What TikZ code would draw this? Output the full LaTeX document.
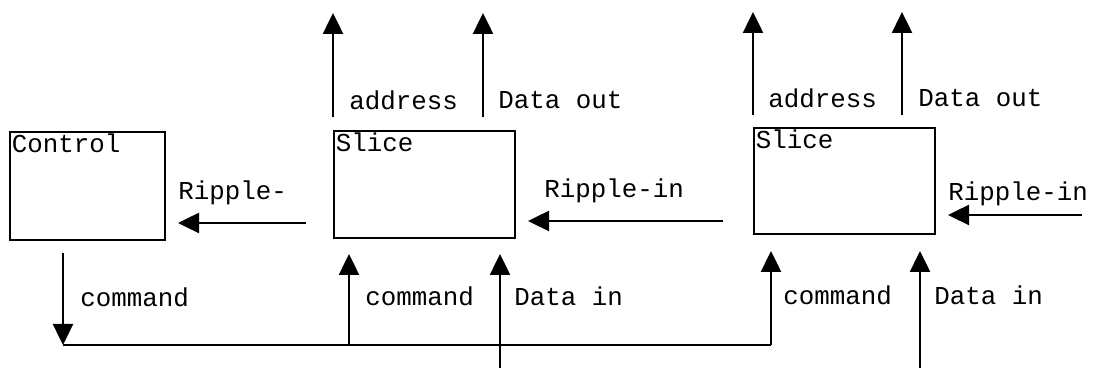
\documentclass[tikz,border=0pt]{standalone}
\usepackage{fontspec}
\setmonofont{Liberation Mono}
\usetikzlibrary{arrows.meta}

\tikzset{
	box/.style={draw, line width=1.3pt, minimum height=2.14cm, minimum width=3.62cm,
		inner sep=0pt, anchor=south west},
	tag/.style={anchor=north west, inner sep=1.5pt},
	lbl/.style={anchor=west, inner sep=0pt},
	wire/.style={line width=1.4pt},
	sig/.style={wire, -{Triangle[length=0.42cm,width=0.4cm]}}
}

\begin{document}
\begin{tikzpicture}[font=\ttfamily\fontsize{14.7}{17}\selectfont]
		\useasboundingbox (0,0) rectangle (22,7.4);

		% blocks
		\node[box, minimum width=3.1cm, minimum height=2.16cm] (ctrl) at (0.18,2.58) {};
		\node[box] (sa) at (6.66,2.62) {};
		\node[box, minimum height=2.12cm] (sb) at (15.06,2.70) {};

		\node[tag] (ctrltag) at (ctrl.north west) {Control};
		\node[tag] (satag)   at (sa.north west)   {Slice};
		\node[tag] (sbtag)   at (sb.north west)   {Slice};

		% outputs on top
		\coordinate (aa1) at (6.66,5.06);  \coordinate (aa2) at (6.66,7.14);
		\coordinate (ao1) at (9.66,5.06);  \coordinate (ao2) at (9.66,7.14);
		\coordinate (ba1) at (15.06,5.10); \coordinate (ba2) at (15.06,7.16);
		\coordinate (bo1) at (18.04,5.10); \coordinate (bo2) at (18.04,7.16);

		\draw[sig] (aa1) -- (aa2);
		\draw[sig] (ao1) -- (ao2);
		\draw[sig] (ba1) -- (ba2);
		\draw[sig] (bo1) -- (bo2);

		\node[lbl] (aadr) at (6.98,5.40)  {address};
		\node[lbl] (aout) at (9.96,5.40)  {Data out};
		\node[lbl] (badr) at (15.36,5.44) {address};
		\node[lbl] (bout) at (18.36,5.44) {Data out};

		% ripple chain
		\coordinate (r0a) at (6.12,2.94);  \coordinate (r0b) at (3.56,2.94);
		\coordinate (r1a) at (14.46,2.98); \coordinate (r1b) at (10.56,2.98);
		\coordinate (r2a) at (21.64,3.10); \coordinate (r2b) at (18.96,3.10);

		\draw[sig] (r0a) -- (r0b);
		\draw[sig] (r1a) -- (r1b);
		\draw[sig] (r2a) -- (r2b);

		\node[lbl] (r0lbl) at (3.56,3.54)  {Ripple-};
		\node[lbl] (r1lbl) at (10.88,3.58) {Ripple-in};
		\node[lbl] (r2lbl) at (18.96,3.52) {Ripple-in};

		% command bus and data inputs
		\coordinate (c0) at (1.26,2.34);
		\coordinate (bus0) at (1.26,0.50);
		\coordinate (bus1) at (6.98,0.50);  \coordinate (ca) at (6.98,2.32);
		\coordinate (bus2) at (15.42,0.50); \coordinate (cb) at (15.42,2.38);
		\coordinate (da1) at (10.00,0.04);  \coordinate (da2) at (10.00,2.32);
		\coordinate (db1) at (18.40,0.04);  \coordinate (db2) at (18.40,2.38);

		\draw[sig] (c0) -- (bus0);
		\draw[wire] (bus0) -- (bus2);
		\draw[sig] (bus1) -- (ca);
		\draw[sig] (bus2) -- (cb);
		\draw[sig] (da1) -- (da2);
		\draw[sig] (db1) -- (db2);

		\node[lbl] (c0lbl) at (1.60,1.46)  {command};
		\node[lbl] (calbl) at (7.30,1.48)  {command};
		\node[lbl] (dalbl) at (10.28,1.48) {Data in};
		\node[lbl] (cblbl) at (15.66,1.50) {command};
		\node[lbl] (dblbl) at (18.68,1.50) {Data in};
	\end{tikzpicture}
\end{document}
